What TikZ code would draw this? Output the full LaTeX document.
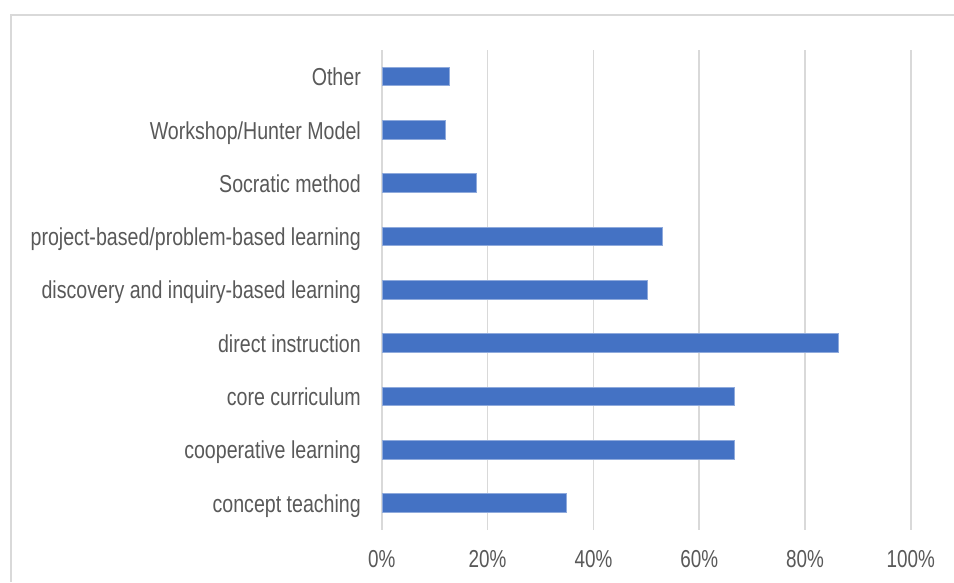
\documentclass[tikz,border=0pt]{standalone}
\usepackage{fontspec}
\newfontfamily\chartfont{Liberation Sans}[FakeStretch=0.80]
\newfontfamily\tickfont{Liberation Sans}[FakeStretch=0.77]
\definecolor{barblue}{HTML}{4472C4}
\definecolor{baredge}{HTML}{8FAADC}
\definecolor{gridgray}{HTML}{D9D9D9}
\definecolor{textgray}{HTML}{595959}
\begin{document}
\begin{tikzpicture}[x=1pt,y=-1pt,
  catlabel/.style={anchor=base east,inner sep=0pt,text=textgray,font=\chartfont\fontsize{24.5}{28}\selectfont},
  ticklabel/.style={anchor=base,inner sep=0pt,text=textgray,font=\tickfont\fontsize{24.5}{28}\selectfont},
  gridline/.style={draw=gridgray,line width=1.6pt},
  framestyle/.style={draw=gridgray,line width=1.8pt},
  barstyle/.style={fill=barblue,draw=baredge,line width=0.7pt}]
\useasboundingbox (0,0) rectangle (954,582);
\fill[white] (0,0) rectangle (954,582);
% frame
\draw[framestyle] (11,582) -- (11,15) -- (954,15);
% gridlines
\foreach \i/\t in {0/0\%,1/20\%,2/40\%,3/60\%,4/80\%,5/100\%}{
  \pgfmathsetmacro{\gx}{381.8+105.8*\i}
  \draw[gridline] (\gx,50) -- (\gx,529.5);
  \node[ticklabel] (tick\i) at (\gx,567.5) {\t};
}
% bars and labels
\foreach \i/\e/\lab in {
  0/449.7/Other,
  1/445/Workshop\slash Hunter Model,
  2/476/Socratic method,
  3/662.5/project-based\slash problem-based learning,
  4/647.5/discovery and inquiry-based learning,
  5/838.7/direct instruction,
  6/734.5/core curriculum,
  7/734.5/cooperative learning,
  8/566.7/concept teaching}{
  \pgfmathsetmacro{\cy}{76.5+53.3*\i}
  \draw[barstyle] (382.5,\cy-9.3) rectangle (\e,\cy+9.3);
  \node[catlabel] (cat\i) at (361,\cy+9.2) {\lab};
}
\end{tikzpicture}
\end{document}
